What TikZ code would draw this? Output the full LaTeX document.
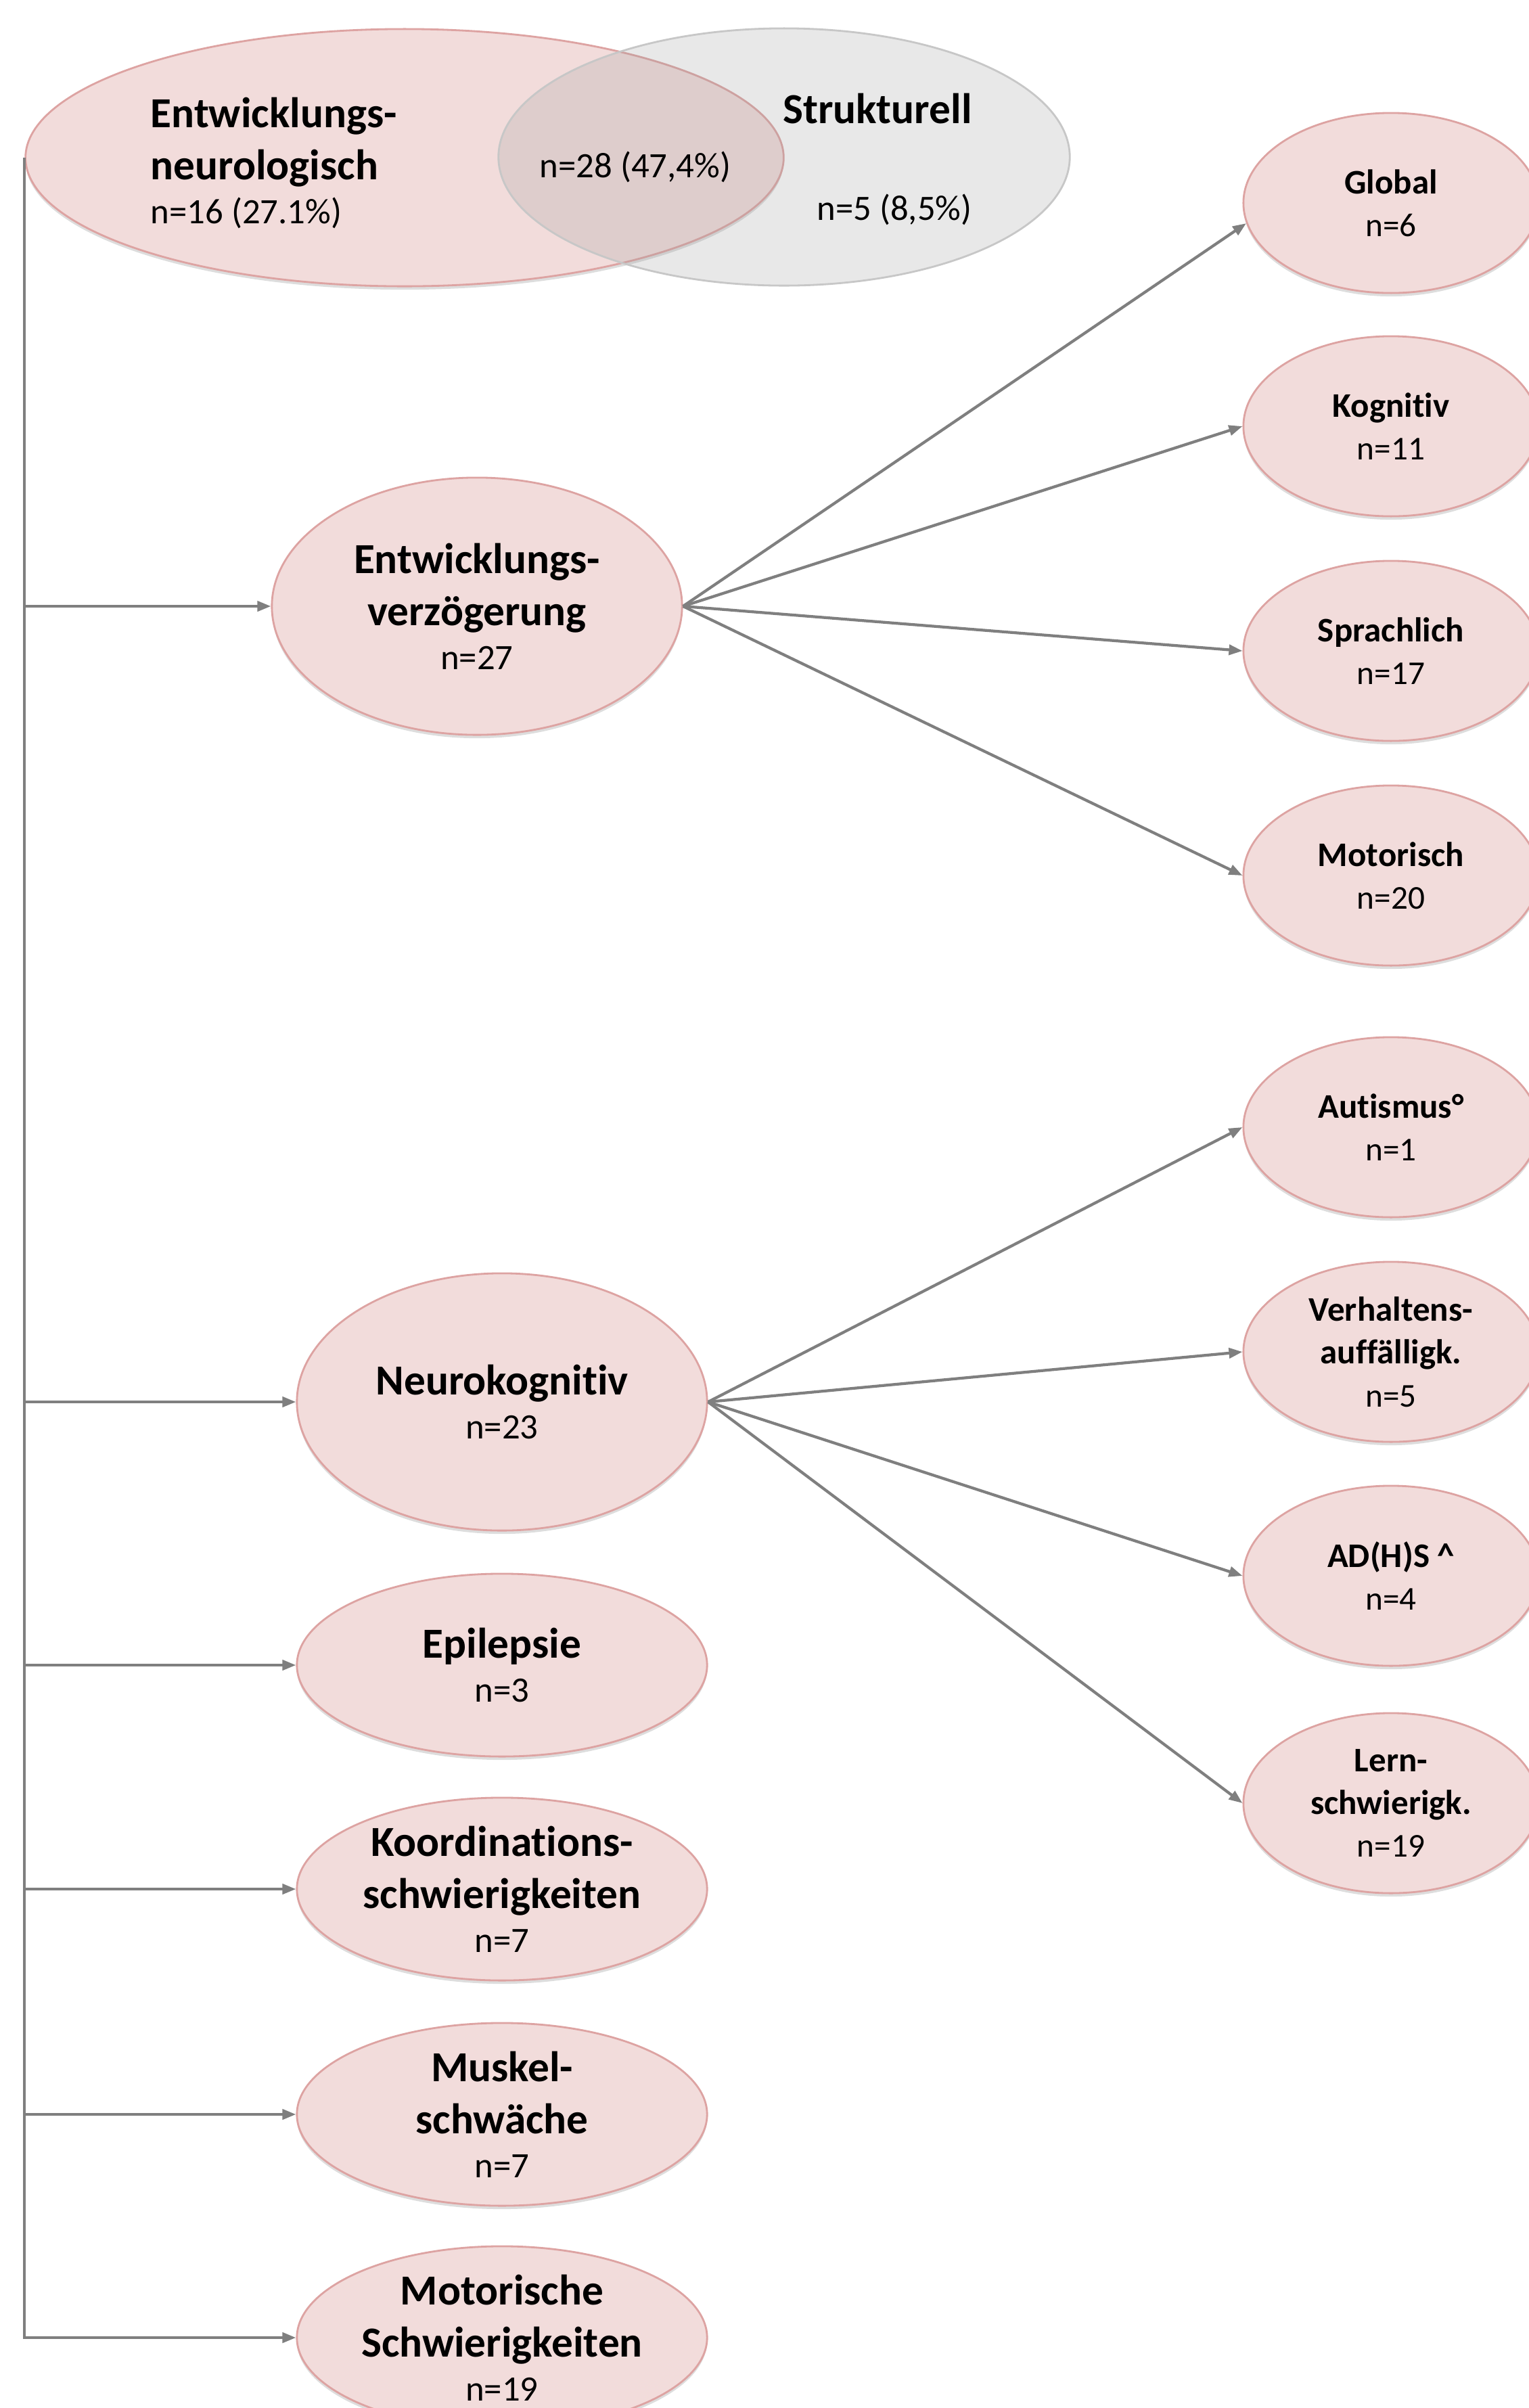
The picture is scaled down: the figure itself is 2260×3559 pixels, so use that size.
\documentclass[tikz,border=0pt]{standalone}
\usepackage{fontspec}
\setmainfont{Carlito}[Ligatures=NoCommon]
\usetikzlibrary{shapes.geometric,shadows,arrows.meta}

\definecolor{bubfill}{HTML}{F2DCDB}
\definecolor{bubline}{HTML}{DDA3A2}
\definecolor{connline}{HTML}{7F7F7F}

\newcommand{\bigcount}[1]{{\mdseries\fontsize{15}{18}\selectfont #1}}
\newcommand{\smallcount}[1]{{\mdseries\fontsize{14}{17}\selectfont #1}}

\tikzset{
  bubble/.style={ellipse, draw=bubline, fill=bubfill, line width=0.8pt, inner sep=0pt,
    drop shadow={shadow xshift=0pt, shadow yshift=-0.05cm, opacity=0.22, fill=black!60}},
  leftbub/.style={bubble, minimum width=6.06cm, minimum height=2.7cm},
  rightbub/.style={bubble, minimum width=4.36cm, minimum height=2.66cm},
  bigtxt/.style={align=center, font=\fontsize{18}{22}\selectfont\bfseries},
  smalltxt/.style={align=center, font=\fontsize{14.5}{18}\selectfont\bfseries},
  conn/.style={draw=connline, line width=1.2pt, -{Triangle[length=0.2cm, width=0.15cm]}},
}

\begin{document}
\begin{tikzpicture}[x=0.01cm, y=-0.01cm]
  \useasboundingbox (0,0) rectangle (2260,3559);

  % venn
  \node[bubble, minimum width=11.2cm, minimum height=3.8cm] (venl) at (598,233) {};
  \node[ellipse, draw=black!22, line width=0.8pt, fill=black!39, fill opacity=0.23,
    minimum width=8.44cm, minimum height=3.8cm] (venr) at (1159,232) {};
  \node[bigtxt, align=left, anchor=north west, inner sep=0pt] (entn) at (222,143)
    {Entwicklungs-\\neurologisch\\[-3.5pt]\bigcount{n=16 (27.1\%)}};
  \node[bigtxt, anchor=base, inner sep=0pt] (strk) at (1297,182) {Strukturell};
  \node[font=\fontsize{15}{18}\selectfont, anchor=base, inner sep=0pt] (both) at (939,262) {n=28 (47,4\%)};
  \node[font=\fontsize{15}{18}\selectfont, anchor=base, inner sep=0pt] (strn) at (1322,325) {n=5 (8,5\%)};

  % left column
  \node[leftbub, minimum height=3.8cm, label={[bigtxt]center:{Entwicklungs-\\verzögerung\\[-3.5pt]\bigcount{n=27}}}]
    (entv) at (705,896) {};
  \node[leftbub, minimum height=3.8cm, label={[bigtxt]center:{Neurokognitiv\\[-3.5pt]\bigcount{n=23}}}]
    (neuro) at (742,2072) {};
  \node[leftbub, label={[bigtxt]center:{Epilepsie\\[-3.5pt]\bigcount{n=3}}}]
    (epil) at (742,2461) {};
  \node[leftbub, label={[bigtxt]center:{Koordinations-\\schwierigkeiten\\[-3.5pt]\bigcount{n=7}}}]
    (koord) at (742,2792) {};
  \node[leftbub, label={[bigtxt]center:{Muskel-\\schwäche\\[-3.5pt]\bigcount{n=7}}}]
    (musk) at (742,3125) {};
  \node[leftbub, label={[bigtxt]center:{Motorische\\Schwierigkeiten\\[-3.5pt]\bigcount{n=19}}}]
    (motsch) at (742,3455) {};

  % right column
  \node[rightbub, label={[smalltxt]center:{Global\\\smallcount{n=6}}}] (glob) at (2056,300) {};
  \node[rightbub, label={[smalltxt]center:{Kognitiv\\\smallcount{n=11}}}] (kogn) at (2056,630) {};
  \node[rightbub, label={[smalltxt]center:{Sprachlich\\\smallcount{n=17}}}] (sprach) at (2056,962) {};
  \node[rightbub, label={[smalltxt]center:{Motorisch\\\smallcount{n=20}}}] (motor) at (2056,1294) {};
  \node[rightbub, label={[smalltxt]center:{Autismus°\\\smallcount{n=1}}}] (auti) at (2056,1666) {};
  \node[rightbub, label={[smalltxt]center:{Verhaltens-\\auffälligk.\\\smallcount{n=5}}}] (verh) at (2056,1998) {};
  \node[rightbub, label={[smalltxt]center:{AD(H)S \^{}\\\smallcount{n=4}}}] (adhs) at (2056,2329) {};
  \node[rightbub, label={[smalltxt]center:{Lern-\\schwierigk.\\\smallcount{n=19}}}] (lern) at (2056,2665) {};

  % trunk and branches
  \draw[conn] (venl.west) |- (motsch);
  \foreach \n in {entv,neuro,epil,koord,musk}
    \draw[conn] (venl.west |- \n) -- (\n);

  % fans
  \draw[conn] (entv.east) -- (glob.188);
  \foreach \n in {kogn,sprach,motor}
    \draw[conn] (entv.east) -- (\n.west);
  \foreach \n in {auti,verh,adhs,lern}
    \draw[conn] (neuro.east) -- (\n.west);
\end{tikzpicture}
\end{document}
